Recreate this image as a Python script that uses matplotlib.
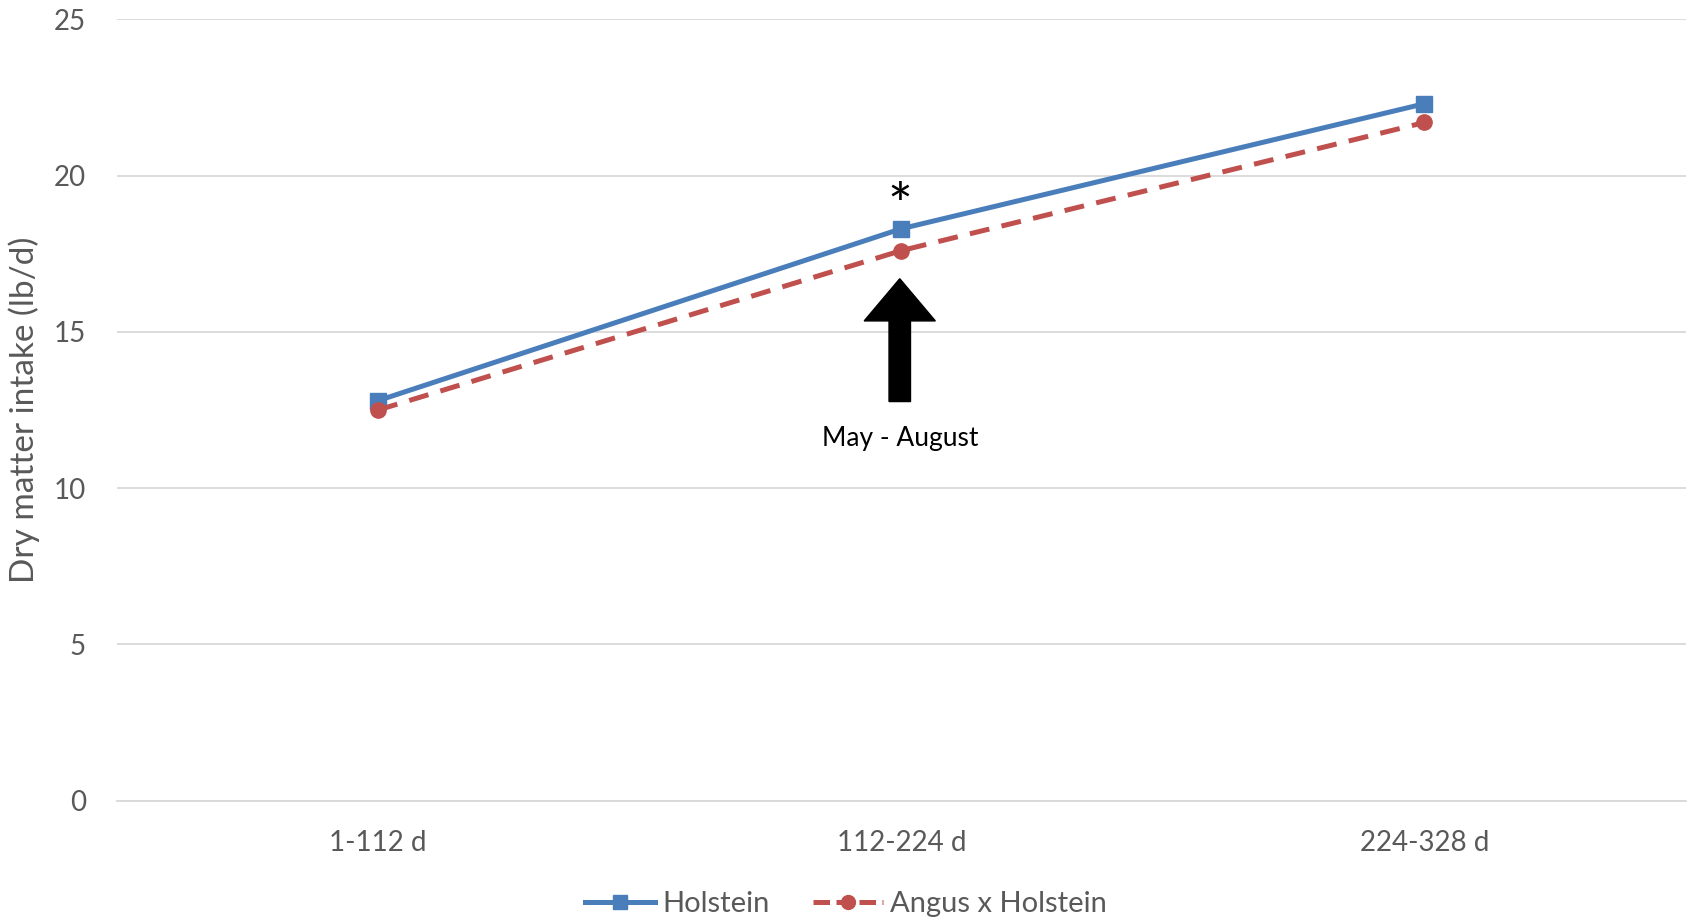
import numpy as np
import matplotlib
matplotlib.use('Agg')
import matplotlib.pyplot as plt
from matplotlib.patches import FancyArrow
from matplotlib.lines import Line2D

plt.rcParams['font.family'] = ['Lato', 'DejaVu Sans']

categories = ['1-112 d', '112-224 d', '224-328 d']
holstein = [12.8, 18.3, 22.3]
angus_holstein = [12.5, 17.6, 21.7]

fig = plt.figure(figsize=(16.92, 9.21), dpi=100)
ax = fig.add_axes([0.0689, 0.1307, 0.9276, 0.8483])

x = np.arange(len(categories))
ax.plot(x, holstein, color='#4a7ebb', lw=3.6, marker='s', ms=11,
        label='Holstein', zorder=3)
ax.plot(x, angus_holstein, color='#c0504d', lw=3.6, ls=(0, (4, 2.5)),
        marker='o', ms=11, label='Angus x Holstein', zorder=3)

ax.set_xlim(-0.5, 2.5)
ax.set_ylim(0, 25)
ax.set_yticks([0, 5, 10, 15, 20, 25])
ax.set_xticks(x)
ax.set_xticklabels(categories)
ax.grid(axis='y', color='#d9d9d9', lw=1.3)
ax.set_axisbelow(True)
for s in ['top', 'right', 'left']:
    ax.spines[s].set_visible(False)
ax.spines['bottom'].set_color('#d9d9d9')
ax.spines['bottom'].set_linewidth(1.3)
ax.tick_params(axis='both', length=0, labelsize=20, labelcolor='#595959')
ax.tick_params(axis='x', pad=21)
ax.tick_params(axis='y', pad=22)
ax.set_ylabel('Dry matter intake (lb/d)', fontsize=24, color='#595959', labelpad=10)

# arrow and annotations
ax.add_patch(FancyArrow(0.997, 12.77, 0, 3.93, width=0.041, head_width=0.136,
                        head_length=1.35, length_includes_head=True,
                        color='black', zorder=4))
ax.text(0.997, 11.6, 'May - August', ha='center', va='center', fontsize=19, color='black')
ax.text(0.997, 18.95, '*', ha='center', va='center', fontsize=42, color='black')

# legend proxies
h1 = Line2D([], [], color='#4a7ebb', lw=3.6, marker='s', ms=10)
h2 = Line2D([], [], color='#c0504d', lw=3.6, ls=(0, (3.3, 1.3)), marker='o', ms=10)
leg = fig.legend([h1, h2], ['Holstein', 'Angus x Holstein'], loc='center',
                 bbox_to_anchor=(0.5, 0.018), ncol=2, frameon=False,
                 fontsize=21, labelcolor='#595959', handlelength=2.4,
                 handletextpad=0.25, columnspacing=1.5)

fig.savefig('out.png', dpi=100)
